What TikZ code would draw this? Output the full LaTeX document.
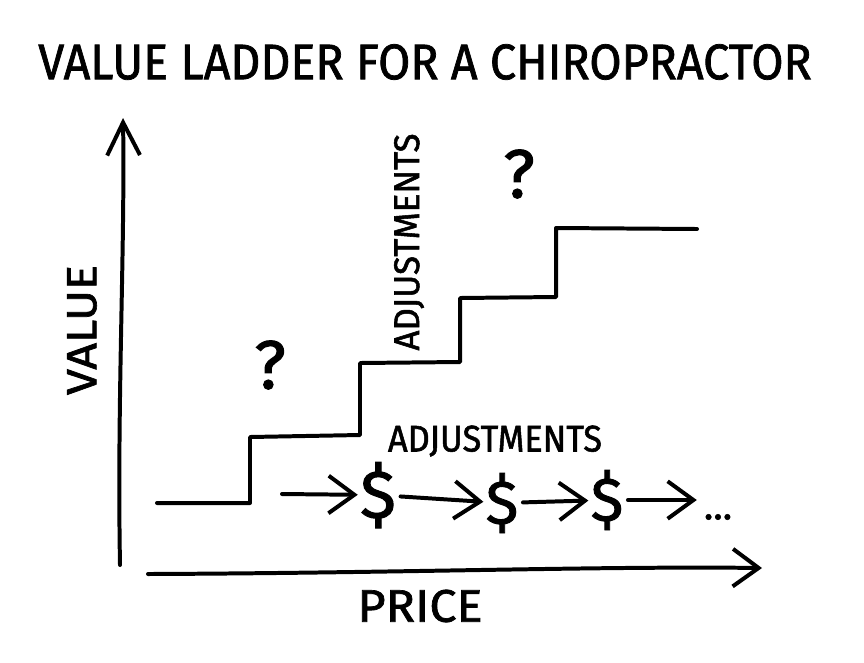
\documentclass[tikz,border=0pt]{standalone}
\usepackage{fontspec}
\usepackage{graphicx}
\usetikzlibrary{arrows.meta}
\newfontfamily\sketchfont[FakeBold=1.5]{Fira Sans}
\newcommand{\fitbox}[3]{\resizebox{#1}{#2}{\sketchfont #3}}

\tikzset{
  sketch/.style={line width=3.4pt, line cap=round, line join=round},
  axisup/.style={sketch, -{Straight Barb[length=28pt,width=28pt,line width=3.4pt]}},
  axisright/.style={sketch, -{Straight Barb[length=22pt,width=32pt,line width=3.4pt]}},
  rowarrow/.style={sketch, -{Straight Barb[length=22pt,width=32pt,line width=3.4pt]}},
  lbl/.style={inner sep=0pt, outer sep=0pt}
}

\begin{document}
\begin{tikzpicture}[x=0.3mm,y=-0.3mm]
\useasboundingbox (0,0) rectangle (864,662);
\node[lbl] (title) at (425,62) {\fitbox{23.2cm}{1.05cm}{VALUE LADDER FOR A CHIROPRACTOR}};
\node[lbl,rotate=90] (value) at (82,330) {\fitbox{3.9cm}{0.87cm}{VALUE}};
\node[lbl] (price) at (420,606) {\fitbox{3.75cm}{0.96cm}{PRICE}};
\node[lbl,rotate=90] (adjup) at (409,242) {\fitbox{6.51cm}{0.75cm}{ADJUSTMENTS}};
\node[lbl] (adjrow) at (495,441) {\fitbox{6.42cm}{0.78cm}{ADJUSTMENTS}};
\node[lbl] (qlow) at (270,365) {\fitbox{!}{1.44cm}{?}};
\node[lbl] (qhigh) at (519,174) {\fitbox{!}{1.44cm}{?}};
\node[lbl] (d1) at (378,495) {\resizebox*{!}{1.98cm}{\sketchfont\$}};
\node[lbl] (d2) at (502,503) {\resizebox*{!}{1.8cm}{\sketchfont\$}};
\node[lbl] (d3) at (607,500) {\resizebox*{!}{1.8cm}{\sketchfont\$}};
\node[lbl] (dots) at (718,517) {\fitbox{0.85cm}{!}{...}};

\coordinate (ybase) at (120,565);
\coordinate (ytip) at (123,118);
\coordinate (xbase) at (148,574);
\coordinate (xtip) at (762,568);
\coordinate (rowstart) at (282,494);

\draw[axisup] (ybase) .. controls (117,400) and (125,250) .. (ytip);
\draw[axisright] (xbase) .. controls (400,573) and (600,566) .. (xtip);
\draw[sketch] (157,503)--(250,503)--(250,437)--(360,435)--(360,363)--(460,362)
  --(460,298)--(556,297)--(556,228)--(697,229);

\draw[rowarrow,shorten >=2pt] (rowstart) -- (d1);
\draw[rowarrow,shorten <=4pt,shorten >=2pt] (d1) -- (d2);
\draw[rowarrow,shorten <=4pt,shorten >=2pt] (d2) -- (d3);
\draw[rowarrow,shorten <=4pt,shorten >=6pt] (d3) -- (d3 -| dots.west);
\end{tikzpicture}
\end{document}
